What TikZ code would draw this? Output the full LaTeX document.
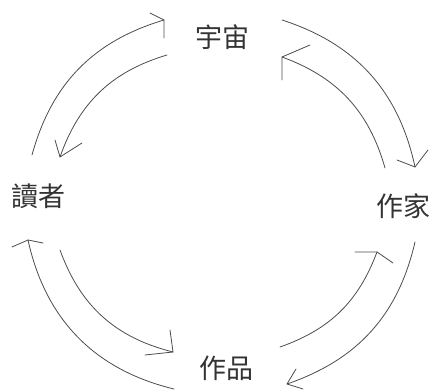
\documentclass[tikz,border=0pt]{standalone}
\usepackage{fontspec}
\newfontfamily\cjk{Noto Sans CJK TC}
\begin{document}
\begin{tikzpicture}[x=1pt,y=1pt,
  lbl/.style={font=\cjk\fontsize{27}{30}\selectfont, text=black!80, inner sep=0pt},
  arcline/.style={draw=black!70, line width=0.8pt, line cap=round, line join=round}]
\useasboundingbox (0,0) rectangle (435,390);
% labels
\node[lbl] (yuzhou) at (222,353) {宇宙};
\node[lbl] (duzhe)  at (38,194)  {讀者};
\node[lbl] (zuojia) at (403,184) {作家};
\node[lbl] (zuopin) at (226,22)  {作品};
% arc end points
\coordinate (s1) at (32,235);  \coordinate (t1) at (164,370);
\coordinate (s2) at (167,335); \coordinate (t2) at (60,233);
\coordinate (s3) at (282,370); \coordinate (t3) at (415,223);
\coordinate (s4) at (385,222); \coordinate (t4) at (282,333);
\coordinate (s5) at (174,1);   \coordinate (t5) at (28,150);
\coordinate (s6) at (60,140);  \coordinate (t6) at (173,38);
\coordinate (s7) at (280,43);  \coordinate (t7) at (377,138);
\coordinate (s8) at (415,148); \coordinate (t8) at (287,6);
% arcs
\draw[arcline] (s1) to[bend left=29] (t1);
\draw[arcline] (s2) to[bend right=27] (t2);
\draw[arcline] (s3) to[bend left=30] (t3);
\draw[arcline] (s4) to[bend right=27] (t4);
\draw[arcline] (s5) to[bend left=32] (t5);
\draw[arcline] (s6) to[bend right=28] (t6);
\draw[arcline] (s7) to[bend right=25] (t7);
\draw[arcline] (s8) to[bend left=29] (t8);
% hand-drawn arrow heads
\draw[arcline] (t1) ++(-14,7)  -- (t1) -- ++(0,-18);
\draw[arcline] (t2) ++(-5,17)  -- (t2) -- ++(22,14);
\draw[arcline] (t3) ++(-18,7)  -- (t3) -- ++(13,17);
\draw[arcline] (t4) ++(28,12)  -- (t4) -- ++(0,-23);
\draw[arcline] (t5) ++(-16,-7) -- (t5) -- ++(15,-3);
\draw[arcline] (t6) ++(-3,22)  -- (t6) -- ++(-28,-3);
\draw[arcline] (t7) ++(-22,0)  -- (t7) -- ++(16,-11);
\draw[arcline] (t8) ++(9,15)   -- (t8) -- ++(16,-5);
\end{tikzpicture}
\end{document}
